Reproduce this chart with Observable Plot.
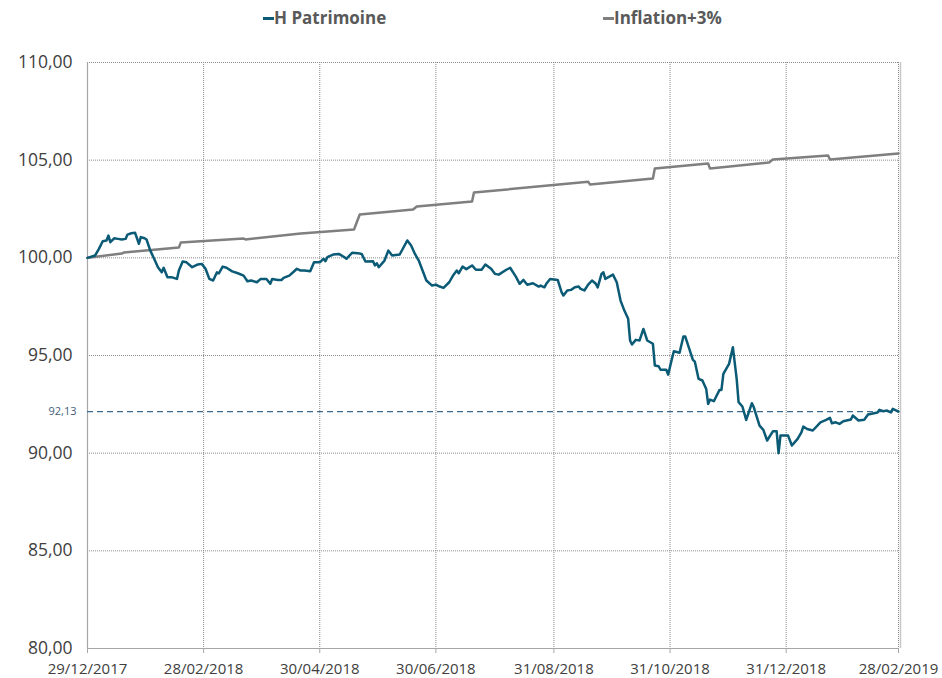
<!DOCTYPE html>
<html>
<head>
<meta charset="utf-8">
<script src="https://cdn.jsdelivr.net/npm/d3@7"></script>
<script src="https://cdn.jsdelivr.net/npm/@observablehq/plot@0.6"></script>
<style>
  html, body { margin: 0; padding: 0; background: #fff; }
  #wrap { width: 942px; height: 678px; position: relative; overflow: hidden; }
  #legend { position: relative; height: 36px; font-family: "Open Sans", sans-serif; font-weight: 700; font-size: 17px; color: #595959; }
  .lg-item { position: absolute; top: 9px; line-height: 17px; white-space: nowrap; }
  .lg-dash { position: absolute; width: 11px; height: 2.5px; top: 17px; }
  #chart svg { display: block; }
</style>
</head>
<body>
<div id="wrap">
  <div id="legend"></div>
  <div id="chart"></div>
</div>
<script>
// ---- Data ----
const seriesNames = ["H Patrimoine", "Inflation+3%"];
const seriesColors = ["#0b5a76", "#7f7f7f"];

const hpDates = [
  "2017-12-29","2018-01-02","2018-01-04","2018-01-06","2018-01-08","2018-01-09","2018-01-10","2018-01-12","2018-01-14","2018-01-16",
  "2018-01-18","2018-01-19","2018-01-21","2018-01-23","2018-01-25","2018-01-26","2018-01-28","2018-01-29","2018-01-31","2018-02-02",
  "2018-02-04","2018-02-06","2018-02-07","2018-02-09","2018-02-11","2018-02-14","2018-02-15","2018-02-17","2018-02-19","2018-02-22",
  "2018-02-25","2018-02-27","2018-03-01","2018-03-03","2018-03-05","2018-03-07","2018-03-08","2018-03-10","2018-03-12","2018-03-15",
  "2018-03-18","2018-03-21","2018-03-23","2018-03-25","2018-03-28","2018-03-30","2018-04-02","2018-04-04","2018-04-05","2018-04-08",
  "2018-04-10","2018-04-11","2018-04-14","2018-04-16","2018-04-18","2018-04-20","2018-04-22","2018-04-25","2018-04-27","2018-04-30",
  "2018-05-02","2018-05-03","2018-05-04","2018-05-07","2018-05-10","2018-05-13","2018-05-14","2018-05-17","2018-05-20","2018-05-22",
  "2018-05-24","2018-05-28","2018-05-29","2018-05-30","2018-05-31","2018-06-03","2018-06-05","2018-06-07","2018-06-11","2018-06-15",
  "2018-06-17","2018-06-19","2018-06-21","2018-06-23","2018-06-25","2018-06-28","2018-06-30","2018-07-02","2018-07-04","2018-07-07",
  "2018-07-09","2018-07-11","2018-07-12","2018-07-14","2018-07-16","2018-07-19","2018-07-21","2018-07-24","2018-07-26","2018-07-29",
  "2018-07-31","2018-08-02","2018-08-06","2018-08-08","2018-08-11","2018-08-13","2018-08-15","2018-08-17","2018-08-20","2018-08-23",
  "2018-08-24","2018-08-26","2018-08-27","2018-08-29","2018-09-02","2018-09-04","2018-09-05","2018-09-07","2018-09-09","2018-09-11",
  "2018-09-13","2018-09-14","2018-09-16","2018-09-18","2018-09-20","2018-09-22","2018-09-23","2018-09-25","2018-09-26","2018-09-27",
  "2018-10-01","2018-10-03","2018-10-05","2018-10-07","2018-10-09","2018-10-10","2018-10-11","2018-10-13","2018-10-15","2018-10-17",
  "2018-10-19","2018-10-22","2018-10-23","2018-10-25","2018-10-26","2018-10-29","2018-10-30","2018-11-01","2018-11-02","2018-11-05",
  "2018-11-07","2018-11-08","2018-11-12","2018-11-13","2018-11-15","2018-11-17","2018-11-19","2018-11-20","2018-11-21","2018-11-23",
  "2018-11-26","2018-11-27","2018-11-28","2018-12-01","2018-12-03","2018-12-05","2018-12-06","2018-12-08","2018-12-10","2018-12-13",
  "2018-12-14","2018-12-17","2018-12-19","2018-12-21","2018-12-24","2018-12-26","2018-12-27","2018-12-28","2019-01-01","2019-01-03",
  "2019-01-06","2019-01-08","2019-01-09","2019-01-11","2019-01-14","2019-01-18","2019-01-21","2019-01-23","2019-01-24","2019-01-26",
  "2019-01-28","2019-01-30","2019-02-03","2019-02-04","2019-02-07","2019-02-10","2019-02-12","2019-02-17","2019-02-18","2019-02-20",
  "2019-02-22","2019-02-24","2019-02-25","2019-02-28"
];
const hpValues = [
  100.00,100.12,100.46,100.85,100.89,101.14,100.80,101.00,100.97,100.94,
  100.97,101.19,101.26,101.28,100.72,101.06,101.00,100.94,100.37,99.95,
  99.52,99.26,99.49,99.01,99.01,98.92,99.35,99.81,99.77,99.52,
  99.66,99.69,99.44,98.92,98.84,99.26,99.21,99.55,99.49,99.31,
  99.21,99.09,98.80,98.84,98.75,98.92,98.92,98.67,98.92,98.87,
  98.87,98.97,99.09,99.26,99.44,99.35,99.35,99.31,99.77,99.77,
  99.95,99.83,100.03,100.17,100.20,100.03,99.95,100.26,100.24,100.20,
  99.81,99.83,99.61,99.72,99.52,99.86,100.37,100.12,100.17,100.89,
  100.63,100.20,99.86,99.35,98.84,98.58,98.63,98.53,98.46,98.75,
  99.09,99.35,99.21,99.55,99.42,99.61,99.39,99.39,99.66,99.44,
  99.18,99.14,99.39,99.49,99.04,98.67,98.87,98.62,98.70,98.53,
  98.58,98.49,98.67,98.92,98.87,98.24,98.07,98.33,98.36,98.49,
  98.53,98.41,98.33,98.63,98.84,98.67,98.49,99.18,99.26,98.92,
  99.14,98.75,97.81,97.30,96.88,95.77,95.56,95.80,95.77,96.36,
  95.77,95.60,94.49,94.45,94.27,94.27,94.02,94.83,95.22,95.14,
  95.97,95.97,94.78,94.69,93.80,93.72,93.29,92.52,92.74,92.66,
  93.24,93.24,94.06,94.57,95.42,93.80,92.61,92.39,91.70,92.56,
  92.35,91.41,91.19,90.65,91.12,91.12,90.00,90.90,90.90,90.39,
  90.73,91.07,91.36,91.24,91.16,91.58,91.70,91.81,91.53,91.58,
  91.50,91.63,91.72,91.93,91.67,91.71,91.98,92.08,92.22,92.15,
  92.18,92.09,92.27,92.13
];

const inflDates = [
  "2017-12-29","2018-01-16","2018-01-17","2018-02-15","2018-02-16","2018-03-21","2018-03-22","2018-04-20","2018-05-18","2018-05-21",
  "2018-06-18","2018-06-20","2018-07-19","2018-07-20","2018-09-18","2018-09-19","2018-10-22","2018-10-23","2018-11-20","2018-11-21",
  "2018-12-22","2018-12-24","2019-01-22","2019-01-23","2019-02-28"
];
const inflValues = [
  100.00,100.22,100.27,100.53,100.78,100.99,100.94,101.24,101.45,102.22,
  102.47,102.63,102.88,103.34,103.90,103.75,104.06,104.57,104.83,104.57,
  104.88,105.03,105.24,105.03,105.34
];

const xTickDates = ["2017-12-29","2018-02-28","2018-04-30","2018-06-30","2018-08-31","2018-10-31","2018-12-31","2019-02-28"];
const yTickValues = [80, 85, 90, 95, 100, 105, 110];
const lastValue = 92.13;

// ---- Build ----
const parse = d3.utcParse("%Y-%m-%d");
const fmtDate = d3.utcFormat("%d/%m/%Y");
const fmtNum = v => v.toFixed(2).replace(".", ",");

const hp = hpDates.map((d, i) => ({date: parse(d), value: hpValues[i]}));
const infl = inflDates.map((d, i) => ({date: parse(d), value: inflValues[i]}));
const xTicks = xTickDates.map(parse);
const xStart = xTicks[0], xEnd = xTicks[xTicks.length - 1];

// Legend
const legend = document.getElementById("legend");
const legendPos = [263, 603];
seriesNames.forEach((name, i) => {
  const dash = document.createElement("div");
  dash.className = "lg-dash";
  dash.style.left = legendPos[i] + "px";
  dash.style.background = seriesColors[i];
  legend.appendChild(dash);
  const t = document.createElement("div");
  t.className = "lg-item";
  t.style.left = (legendPos[i] + 11) + "px";
  t.textContent = name;
  legend.appendChild(t);
});

const chart = Plot.plot({
  width: 942,
  height: 642,
  marginLeft: 87,
  marginRight: 44,
  marginTop: 26,
  marginBottom: 30,
  style: {fontFamily: "'Open Sans', sans-serif", color: "#404040", background: "#fff", overflow: "visible"},
  x: {type: "utc", domain: [xStart, xEnd]},
  y: {domain: [80, 110]},
  marks: [
    Plot.gridY(yTickValues.slice(1), {stroke: "#8a8a8a", strokeOpacity: 1, strokeDasharray: "1,1", strokeWidth: 1}),
    Plot.gridX(xTicks.slice(1), {stroke: "#8a8a8a", strokeOpacity: 1, strokeDasharray: "1,1", strokeWidth: 1}),
    Plot.ruleX([xEnd], {stroke: "#c8c8c8", strokeWidth: 1.5, dx: 2}),
    Plot.ruleX([xStart], {stroke: "#a6a6a6", strokeWidth: 1.2}),
    Plot.ruleY([80], {stroke: "#a6a6a6", strokeWidth: 1.2}),
    Plot.axisX(xTicks, {tickFormat: fmtDate, tickSize: 5, tickPadding: 9.5, stroke: "#a6a6a6", fontSize: 15, fill: "#404040", label: null}),
    Plot.axisY(yTickValues, {tickFormat: fmtNum, tickSize: 0, tickPadding: 15, fontSize: 17.5, fill: "#404040", label: null}),
    Plot.ruleY([lastValue], {stroke: "#3d6b8c", strokeWidth: 1.3, strokeDasharray: "6,4"}),
    Plot.text([lastValue], {x: xStart, y: d => d, text: fmtNum, textAnchor: "end", dx: -11, fontSize: 11, fill: "#44607a"}),
    Plot.line(infl, {x: "date", y: "value", stroke: seriesColors[1], strokeWidth: 2.5, curve: "linear"}),
    Plot.line(hp, {x: "date", y: "value", stroke: seriesColors[0], strokeWidth: 2.5, curve: "linear"})
  ]
});
document.getElementById("chart").appendChild(chart);
</script>
</body>
</html>
